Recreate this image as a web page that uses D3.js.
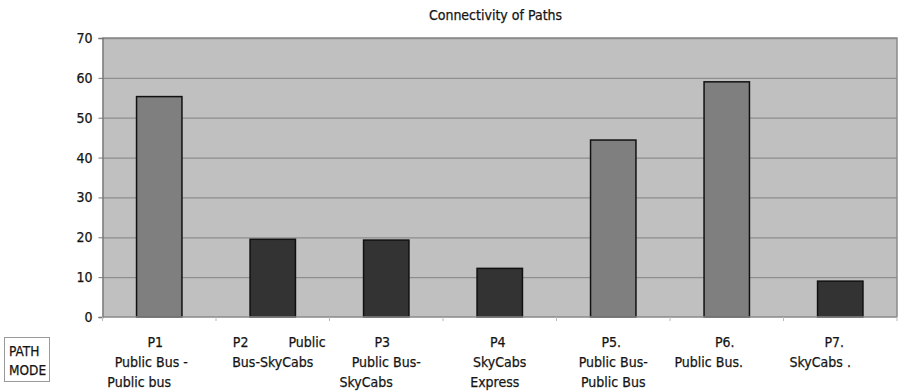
<!DOCTYPE html>
<html>
<head>
<meta charset="utf-8">
<script src="https://cdn.jsdelivr.net/npm/d3@7"></script>
<style>
  html, body { margin: 0; padding: 0; background: #fff; }
  svg { display: block; }
  text { font-family: "DejaVu Sans Condensed", "DejaVu Sans", sans-serif; font-stretch: condensed; fill: #111; stroke: #222; stroke-width: 0.25px; }
</style>
</head>
<body>
<svg id="chart" width="899" height="391"></svg>
<script>
// Connectivity of each path
const categories = ["P1", "P2", "P3", "P4", "P5", "P6", "P7"];
const connectivity = [55.3, 19.5, 19.3, 12.2, 44.4, 59.0, 9.0];
const usesSkyCabs = [false, true, true, true, false, false, true];
const categoryLabels = [
  ["P1", "Public Bus -", "Public bus"],
  ["P2          Public", "Bus-SkyCabs"],
  ["P3", "Public Bus-", "SkyCabs"],
  ["P4", "SkyCabs", "Express"],
  ["P5.", "Public Bus-", "Public Bus"],
  ["P6.", "Public Bus."],
  ["P7.", "SkyCabs ."]
];
const yTicks = [0, 10, 20, 30, 40, 50, 60, 70];
const chartTitle = "Connectivity of Paths";
const axisCaption = ["PATH", "MODE"];

// horizontal nudges for each wrapped label line, relative to the band centre
const labelShift = [
  [-4, -8, -20],
  [6.5, 0],
  [-4, 0, -20],
  [-2, 0, -5],
  [-2, 0, 0],
  [-2, -18],
  [-6, -20]
];

const svg = d3.select("#chart");
const plot = { left: 102.5, right: 897, top: 38, bottom: 317 };

const x = d3.scaleBand().domain(categories).range([plot.left, plot.right]).padding(0);
const y = d3.scaleLinear().domain([0, 70]).range([plot.bottom, plot.top]);
const fill = d3.scaleOrdinal().domain([false, true]).range(["#7f7f7f", "#333333"]);

// plot background
svg.append("rect")
  .attr("x", plot.left).attr("y", plot.top)
  .attr("width", plot.right - plot.left).attr("height", plot.bottom - plot.top)
  .attr("fill", "#c0c0c0");

// gridlines
svg.append("g")
  .attr("transform", `translate(${plot.left},0)`)
  .call(d3.axisLeft(y).tickValues(yTicks.slice(1)).tickSize(-(plot.right - plot.left)).tickFormat(""))
  .call(g => g.select(".domain").remove())
  .call(g => g.selectAll("line").attr("stroke", "#8e8e8e").attr("stroke-width", 1.3));

// plot border (top and right)
svg.append("path")
  .attr("d", `M${plot.left},${plot.top}H${plot.right}V${plot.bottom}`)
  .attr("fill", "none").attr("stroke", "#8a8a8a").attr("stroke-width", 1.5);

// bars
const barW = x.bandwidth() * 0.4;
svg.append("g").selectAll("rect")
  .data(categories)
  .join("rect")
  .attr("x", d => x(d) + (x.bandwidth() - barW) / 2)
  .attr("y", (d, i) => y(connectivity[i]))
  .attr("width", barW)
  .attr("height", (d, i) => y(0) - y(connectivity[i]))
  .attr("fill", (d, i) => fill(usesSkyCabs[i]))
  .attr("stroke", "#111")
  .attr("stroke-width", 1.5);

// y axis
const yAxis = svg.append("g")
  .attr("transform", `translate(${plot.left},0)`)
  .call(d3.axisLeft(y).tickValues(yTicks).tickSize(4).tickPadding(6).tickFormat(d3.format("d")));
yAxis.select(".domain").attr("stroke", "#6f6f6f").attr("stroke-width", 1.3);
yAxis.selectAll(".tick line").attr("stroke", "#777");
yAxis.selectAll(".tick text").attr("font-size", 14).attr("fill", "#111")
  .attr("font-family", "'DejaVu Sans Condensed', 'DejaVu Sans', sans-serif");

// x axis line and boundary ticks
svg.append("line")
  .attr("x1", plot.left).attr("x2", plot.right)
  .attr("y1", y(0)).attr("y2", y(0))
  .attr("stroke", "#8a8a8a").attr("stroke-width", 1.3);
const bounds = categories.map(c => x(c)).concat([x.range()[1]]);
svg.append("g").selectAll("line")
  .data(bounds)
  .join("line")
  .attr("x1", d => d).attr("x2", d => d)
  .attr("y1", y(0)).attr("y2", y(0) + 4)
  .attr("stroke", "#bbb");

// category labels
const lab = svg.append("g").attr("font-size", 14);
categories.forEach((c, i) => {
  const cx = x(c) + x.bandwidth() / 2;
  categoryLabels[i].forEach((line, j) => {
    lab.append("text")
      .attr("x", cx + labelShift[i][j])
      .attr("y", 346.5 + j * 20)
      .attr("text-anchor", "middle")
      .style("white-space", "pre")
      .text(line);
  });
});

// title
svg.append("text")
  .attr("x", 495.5).attr("y", 20)
  .attr("text-anchor", "middle")
  .attr("font-size", 14)
  .text(chartTitle);

// axis caption box
svg.append("rect")
  .attr("x", 4.5).attr("y", 337.5).attr("width", 45).attr("height", 44)
  .attr("fill", "#fff").attr("stroke", "#999");
axisCaption.forEach((t, j) => {
  svg.append("text")
    .attr("x", 9).attr("y", 356 + j * 19)
    .attr("font-size", 13.5)
    .text(t);
});
</script>
</body>
</html>
